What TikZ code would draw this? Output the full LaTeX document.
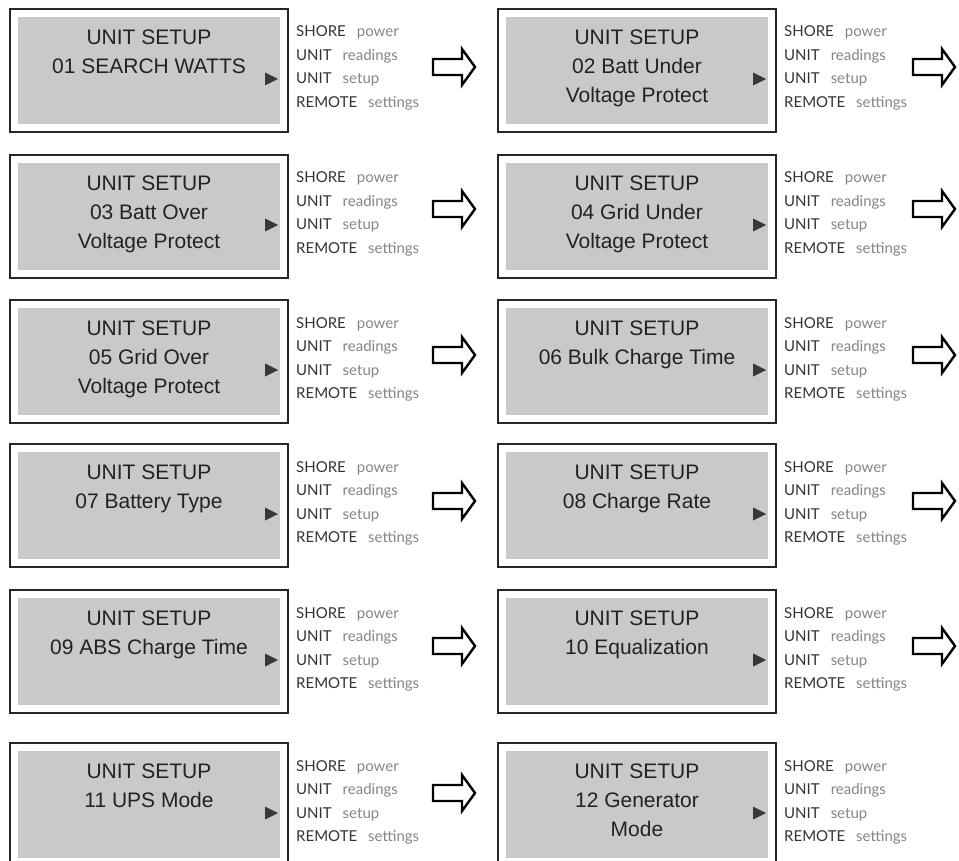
\documentclass[tikz,border=0pt]{standalone}
\usepackage{fontspec}
\setmainfont{Liberation Sans}
\newfontfamily\lblfont{Lato}
\definecolor{framec}{HTML}{262626}
\definecolor{screenc}{HTML}{C9C9C9}
\definecolor{lcdink}{HTML}{222222}
\definecolor{lbldark}{HTML}{333333}
\definecolor{lbllight}{HTML}{858585}
\newcommand\lcdpanel[5]{%
  \node[framebox, anchor=north west] (#1) at (#2,#3) {};
  \node[screenbox, anchor=north west] (#1s) at (#2+8,#3+8) {};
  \node[lcdtext] (#1a) at (#2+139,#3+35.5) {UNIT SETUP};
  \node[lcdtext] (#1b) at (#2+139,#3+64.5) {#4};
  \if\relax\detokenize{#5}\relax\else
  \node[lcdtext] (#1c) at (#2+139,#3+93.5) {#5};
  \fi
  \fill[lcdink!90] (#2+255,#3+63.5) -- (#2+255,#3+76.5) -- (#2+268,#3+70) -- cycle;
  \node[lbl] (#1l1) at (#2+286,#3+28) {\textcolor{lbldark}{SHORE}\hspace{11pt}\textcolor{lbllight}{power}};
  \node[lbl] (#1l2) at (#2+286,#3+51.5) {\textcolor{lbldark}{UNIT}\hspace{11pt}\textcolor{lbllight}{readings}};
  \node[lbl] (#1l3) at (#2+286,#3+75) {\textcolor{lbldark}{UNIT}\hspace{11pt}\textcolor{lbllight}{setup}};
  \node[lbl] (#1l4) at (#2+286,#3+98.5) {\textcolor{lbldark}{REMOTE}\hspace{11pt}\textcolor{lbllight}{settings}};
}
\newcommand\blockarrow[3]{%
  \coordinate (#1) at (#2,#3);
  \draw[barrow] (#2,#3-8) -- (#2+29,#3-8) -- (#2+29,#3-18) -- (#2+42,#3)
    -- (#2+29,#3+18) -- (#2+29,#3+8) -- (#2,#3+8) -- cycle;
}
\begin{document}
\begin{tikzpicture}[x=1pt,y=-1pt,
  framebox/.style={draw=framec, line width=2.5pt, fill=white, minimum width=278, minimum height=123, inner sep=0pt, outer sep=0pt},
  screenbox/.style={fill=screenc, minimum width=262, minimum height=107, inner sep=0pt, outer sep=0pt},
  lcdtext/.style={anchor=base, inner sep=0pt, text=lcdink, font=\fontsize{21}{25}\selectfont},
  lbl/.style={anchor=base west, inner sep=0pt, font=\lblfont\fontsize{15}{18}\selectfont},
  barrow/.style={draw=black, line width=2.4pt, fill=white, line join=miter}]
\useasboundingbox (0,0) rectangle (959,861);
\clip (0,0) rectangle (959,861);
\lcdpanel{p1}{10}{9}{01 SEARCH WATTS}{}
\lcdpanel{p2}{498}{9}{02 Batt Under}{Voltage Protect}
\lcdpanel{p3}{10}{155}{03 Batt Over}{Voltage Protect}
\lcdpanel{p4}{498}{155}{04 Grid Under}{Voltage Protect}
\lcdpanel{p5}{10}{300}{05 Grid Over}{Voltage Protect}
\lcdpanel{p6}{498}{300}{06 Bulk Charge Time}{}
\lcdpanel{p7}{10}{444}{07 Battery Type}{}
\lcdpanel{p8}{498}{444}{08 Charge Rate}{}
\lcdpanel{p9}{10}{590}{09 ABS Charge Time}{}
\lcdpanel{p10}{498}{590}{10 Equalization}{}
\lcdpanel{p11}{10}{743}{11 UPS Mode}{}
\lcdpanel{p12}{498}{743}{12 Generator}{Mode}
\blockarrow{a1}{433}{67}
\blockarrow{a2}{913}{67}
\blockarrow{a3}{433}{209}
\blockarrow{a4}{913}{209}
\blockarrow{a5}{433}{355}
\blockarrow{a6}{913}{355}
\blockarrow{a7}{433}{501}
\blockarrow{a8}{913}{501}
\blockarrow{a9}{433}{646}
\blockarrow{a10}{913}{646}
\blockarrow{a11}{433}{793}
\end{tikzpicture}
\end{document}
